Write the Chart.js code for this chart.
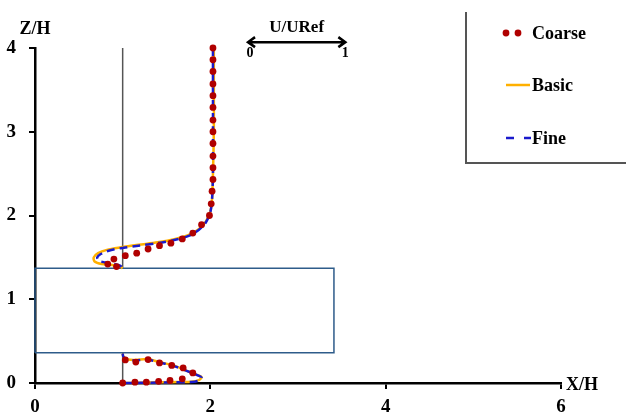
<!DOCTYPE html>
<html>
<head>
<meta charset="utf-8">
<script src="https://cdn.jsdelivr.net/npm/chart.js@4"></script>
<style>
  body { margin: 0; background: #fff; }
  #wrap { width: 626px; height: 417px; }
</style>
</head>
<body>
<div id="wrap"><canvas id="profileChart" width="626" height="417"></canvas></div>
<script>
// ---- data (X/H, Z/H) ----
const xTicks = [0, 2, 4, 6];
const yTicks = [0, 1, 2, 3, 4];

// Basic (solid orange) - profile above the block
const basicUpX = [2.04, 2.04, 2.04, 2.03, 2.02, 2.0, 1.95, 1.87, 1.76, 1.6, 1.4, 1.18, 0.98, 0.82, 0.72, 0.67, 0.68, 0.76, 0.88, 0.97, 1.0];
const basicUpY = [4.0, 3.5, 3.0, 2.5, 2.2, 2.05, 1.93, 1.84, 1.77, 1.72, 1.68, 1.65, 1.62, 1.59, 1.55, 1.5, 1.45, 1.42, 1.41, 1.39, 1.37];
// Basic - profile below the block
const basicLowX = [1.0, 1.01, 1.06, 1.15, 1.28, 1.42, 1.58, 1.72, 1.84, 1.9, 1.87, 1.78, 1.55, 1.3, 1.1, 1.0];
const basicLowY = [0.35, 0.31, 0.28, 0.275, 0.286, 0.25, 0.21, 0.15, 0.1, 0.07, 0.035, 0.016, 0.01, 0.005, 0.0, 0.0];

// Fine (dashed blue)
const fineUpX = [2.03, 2.03, 2.03, 2.03, 2.02, 2.0, 1.95, 1.87, 1.76, 1.6, 1.4, 1.18, 0.98, 0.84, 0.75, 0.71, 0.73, 0.8, 0.9, 0.97, 1.0];
const fineUpY = [4.0, 3.5, 3.0, 2.5, 2.2, 2.04, 1.92, 1.83, 1.76, 1.71, 1.67, 1.64, 1.61, 1.58, 1.54, 1.5, 1.46, 1.44, 1.42, 1.4, 1.37];
const fineLowX = [1.0, 1.01, 1.06, 1.15, 1.28, 1.42, 1.58, 1.73, 1.85, 1.9, 1.87, 1.78, 1.55, 1.3, 1.1, 1.0];
const fineLowY = [0.35, 0.31, 0.28, 0.27, 0.28, 0.245, 0.205, 0.145, 0.095, 0.065, 0.03, 0.012, 0.008, 0.004, 0.0, 0.0];

// Coarse (red dots)
const coarseX = [2.03, 2.03, 2.03, 2.03, 2.03, 2.03, 2.03, 2.03, 2.03, 2.03, 2.03, 2.03, 2.02, 2.01, 1.99, 1.9, 1.8, 1.68, 1.55, 1.42, 1.29, 1.16, 1.03, 0.9, 0.83, 0.93,
                 1.03, 1.15, 1.29, 1.42, 1.56, 1.69, 1.8, 1.68, 1.54, 1.41, 1.27, 1.14, 1.0];
const coarseY = [4.0, 3.86, 3.72, 3.57, 3.43, 3.29, 3.14, 3.0, 2.86, 2.71, 2.57, 2.43, 2.29, 2.14, 2.0, 1.89, 1.79, 1.72, 1.67, 1.64, 1.6, 1.55, 1.52, 1.48, 1.42, 1.39,
                 0.275, 0.25, 0.28, 0.24, 0.21, 0.18, 0.12, 0.05, 0.03, 0.02, 0.01, 0.01, 0.0];

// Reference line x = 1 and block outline
const refUpX = [1, 1];
const refUpY = [4, 1.37];
const refLowX = [1, 1];
const refLowY = [0.36, 0];
const blockX = [0, 3.41, 3.41, 0, 0];
const blockY = [0.36, 0.36, 1.37, 1.37, 0.36];

// velocity scale arrow (U/URef 0..1)
const arrowX = [2.43, 3.54];
const arrowY = 4.07;

const pts = (xs, ys) => xs.map((x, i) => ({ x: x, y: ys[i] }));

const ORANGE = '#ffb000';
const BLUE = '#1a1acc';
const RED = '#b00000';
const SERIF = '"Liberation Serif", "DejaVu Serif", serif';

const lineSet = (data, color, width, dash) => ({
    data: data,
    showLine: true,
    borderColor: color,
    backgroundColor: color,
    borderWidth: width,
    borderDash: dash || [],
    pointRadius: 0,
    tension: 0.3,
    clip: false
});

const decorations = {
    id: 'decorations',
    afterDraw(chart) {
        const ctx = chart.ctx;
        const xs = chart.scales.x;
        const ys = chart.scales.y;
        ctx.save();
        ctx.fillStyle = '#000';
        ctx.strokeStyle = '#000';

        // axis titles
        ctx.font = 'bold 18px ' + SERIF;
        ctx.textAlign = 'center';
        ctx.textBaseline = 'middle';
        ctx.fillText('Z/H', xs.getPixelForValue(0), 29);
        ctx.textAlign = 'left';
        ctx.fillText('X/H', xs.getPixelForValue(6) + 5, 385);

        // U/URef arrow
        const ax1 = xs.getPixelForValue(arrowX[0]);
        const ax2 = xs.getPixelForValue(arrowX[1]);
        const ay = ys.getPixelForValue(arrowY);
        ctx.lineWidth = 2.5;
        ctx.beginPath();
        ctx.moveTo(ax1, ay); ctx.lineTo(ax2, ay);
        ctx.moveTo(ax1 + 7, ay - 5); ctx.lineTo(ax1, ay); ctx.lineTo(ax1 + 7, ay + 5);
        ctx.moveTo(ax2 - 7, ay - 5); ctx.lineTo(ax2, ay); ctx.lineTo(ax2 - 7, ay + 5);
        ctx.stroke();
        ctx.textAlign = 'center';
        ctx.font = 'bold 17px ' + SERIF;
        ctx.fillText('U/URef', (ax1 + ax2) / 2, 28);
        ctx.font = 'bold 14px ' + SERIF;
        ctx.fillText('0', ax1 + 2, 53);
        ctx.fillText('1', ax2, 53);

        // legend frame
        ctx.strokeStyle = '#555';
        ctx.lineWidth = 2;
        ctx.beginPath();
        ctx.moveTo(466, 12); ctx.lineTo(466, 163); ctx.lineTo(626, 163);
        ctx.stroke();

        // legend entries
        ctx.font = 'bold 18px ' + SERIF;
        ctx.textAlign = 'left';
        ctx.fillStyle = RED;
        [506, 518].forEach(px => { ctx.beginPath(); ctx.arc(px, 33, 3.4, 0, Math.PI * 2); ctx.fill(); });
        ctx.strokeStyle = ORANGE;
        ctx.lineWidth = 2.5;
        ctx.beginPath(); ctx.moveTo(506, 85); ctx.lineTo(530, 85); ctx.stroke();
        ctx.strokeStyle = BLUE;
        ctx.beginPath(); ctx.moveTo(506, 138); ctx.lineTo(514, 138); ctx.moveTo(524, 138); ctx.lineTo(531, 138); ctx.stroke();
        ctx.fillStyle = '#000';
        ctx.fillText('Coarse', 532, 34);
        ctx.fillText('Basic', 532, 86);
        ctx.fillText('Fine', 532, 139);
        ctx.restore();
    }
};

// Chart.js paints the first dataset on top, so list from top layer down
new Chart(document.getElementById('profileChart').getContext('2d'), {
    type: 'scatter',
    data: {
        datasets: [
            {
                data: pts(coarseX, coarseY),
                showLine: false,
                pointRadius: 3.4,
                pointBorderWidth: 0,
                backgroundColor: RED,
                borderColor: RED,
                clip: false
            },
            lineSet(pts(fineUpX, fineUpY), BLUE, 2.5, [8, 5]),
            lineSet(pts(fineLowX, fineLowY), BLUE, 2.5, [8, 5]),
            lineSet(pts(basicUpX, basicUpY), ORANGE, 2.5),
            lineSet(pts(basicLowX, basicLowY), ORANGE, 2.5),
            Object.assign(lineSet(pts(blockX, blockY), '#2e5c8a', 1.5), { tension: 0, fill: true, backgroundColor: '#fff' }),
            lineSet(pts(refUpX, refUpY), '#555', 1.5),
            lineSet(pts(refLowX, refLowY), '#555', 1.5)
        ]
    },
    options: {
        responsive: false,
        animation: false,
        events: [],
        layout: { padding: { top: 48, right: 65, left: 0, bottom: 0 } },
        plugins: {
            legend: { display: false },
            tooltip: { enabled: false }
        },
        scales: {
            x: {
                type: 'linear',
                min: 0,
                max: 6,
                afterFit: (s) => { s.height = 34; },
                afterBuildTicks: (s) => { s.ticks = xTicks.map(v => ({ value: v })); },
                ticks: { color: '#000', padding: 7, font: { family: SERIF, size: 19, weight: 'bold' } },
                grid: { drawOnChartArea: false, tickLength: 6, tickColor: '#000', lineWidth: 2 },
                border: { color: '#000', width: 2.5 }
            },
            y: {
                type: 'linear',
                min: 0,
                max: 4,
                afterFit: (s) => { s.width = 35; },
                afterBuildTicks: (s) => { s.ticks = yTicks.map(v => ({ value: v })); },
                ticks: { color: '#000', padding: 13, font: { family: SERIF, size: 19, weight: 'bold' } },
                grid: { drawOnChartArea: false, tickLength: 6, tickColor: '#000', lineWidth: 2 },
                border: { color: '#000', width: 2.5 }
            }
        }
    },
    plugins: [decorations]
});
</script>
</body>
</html>
